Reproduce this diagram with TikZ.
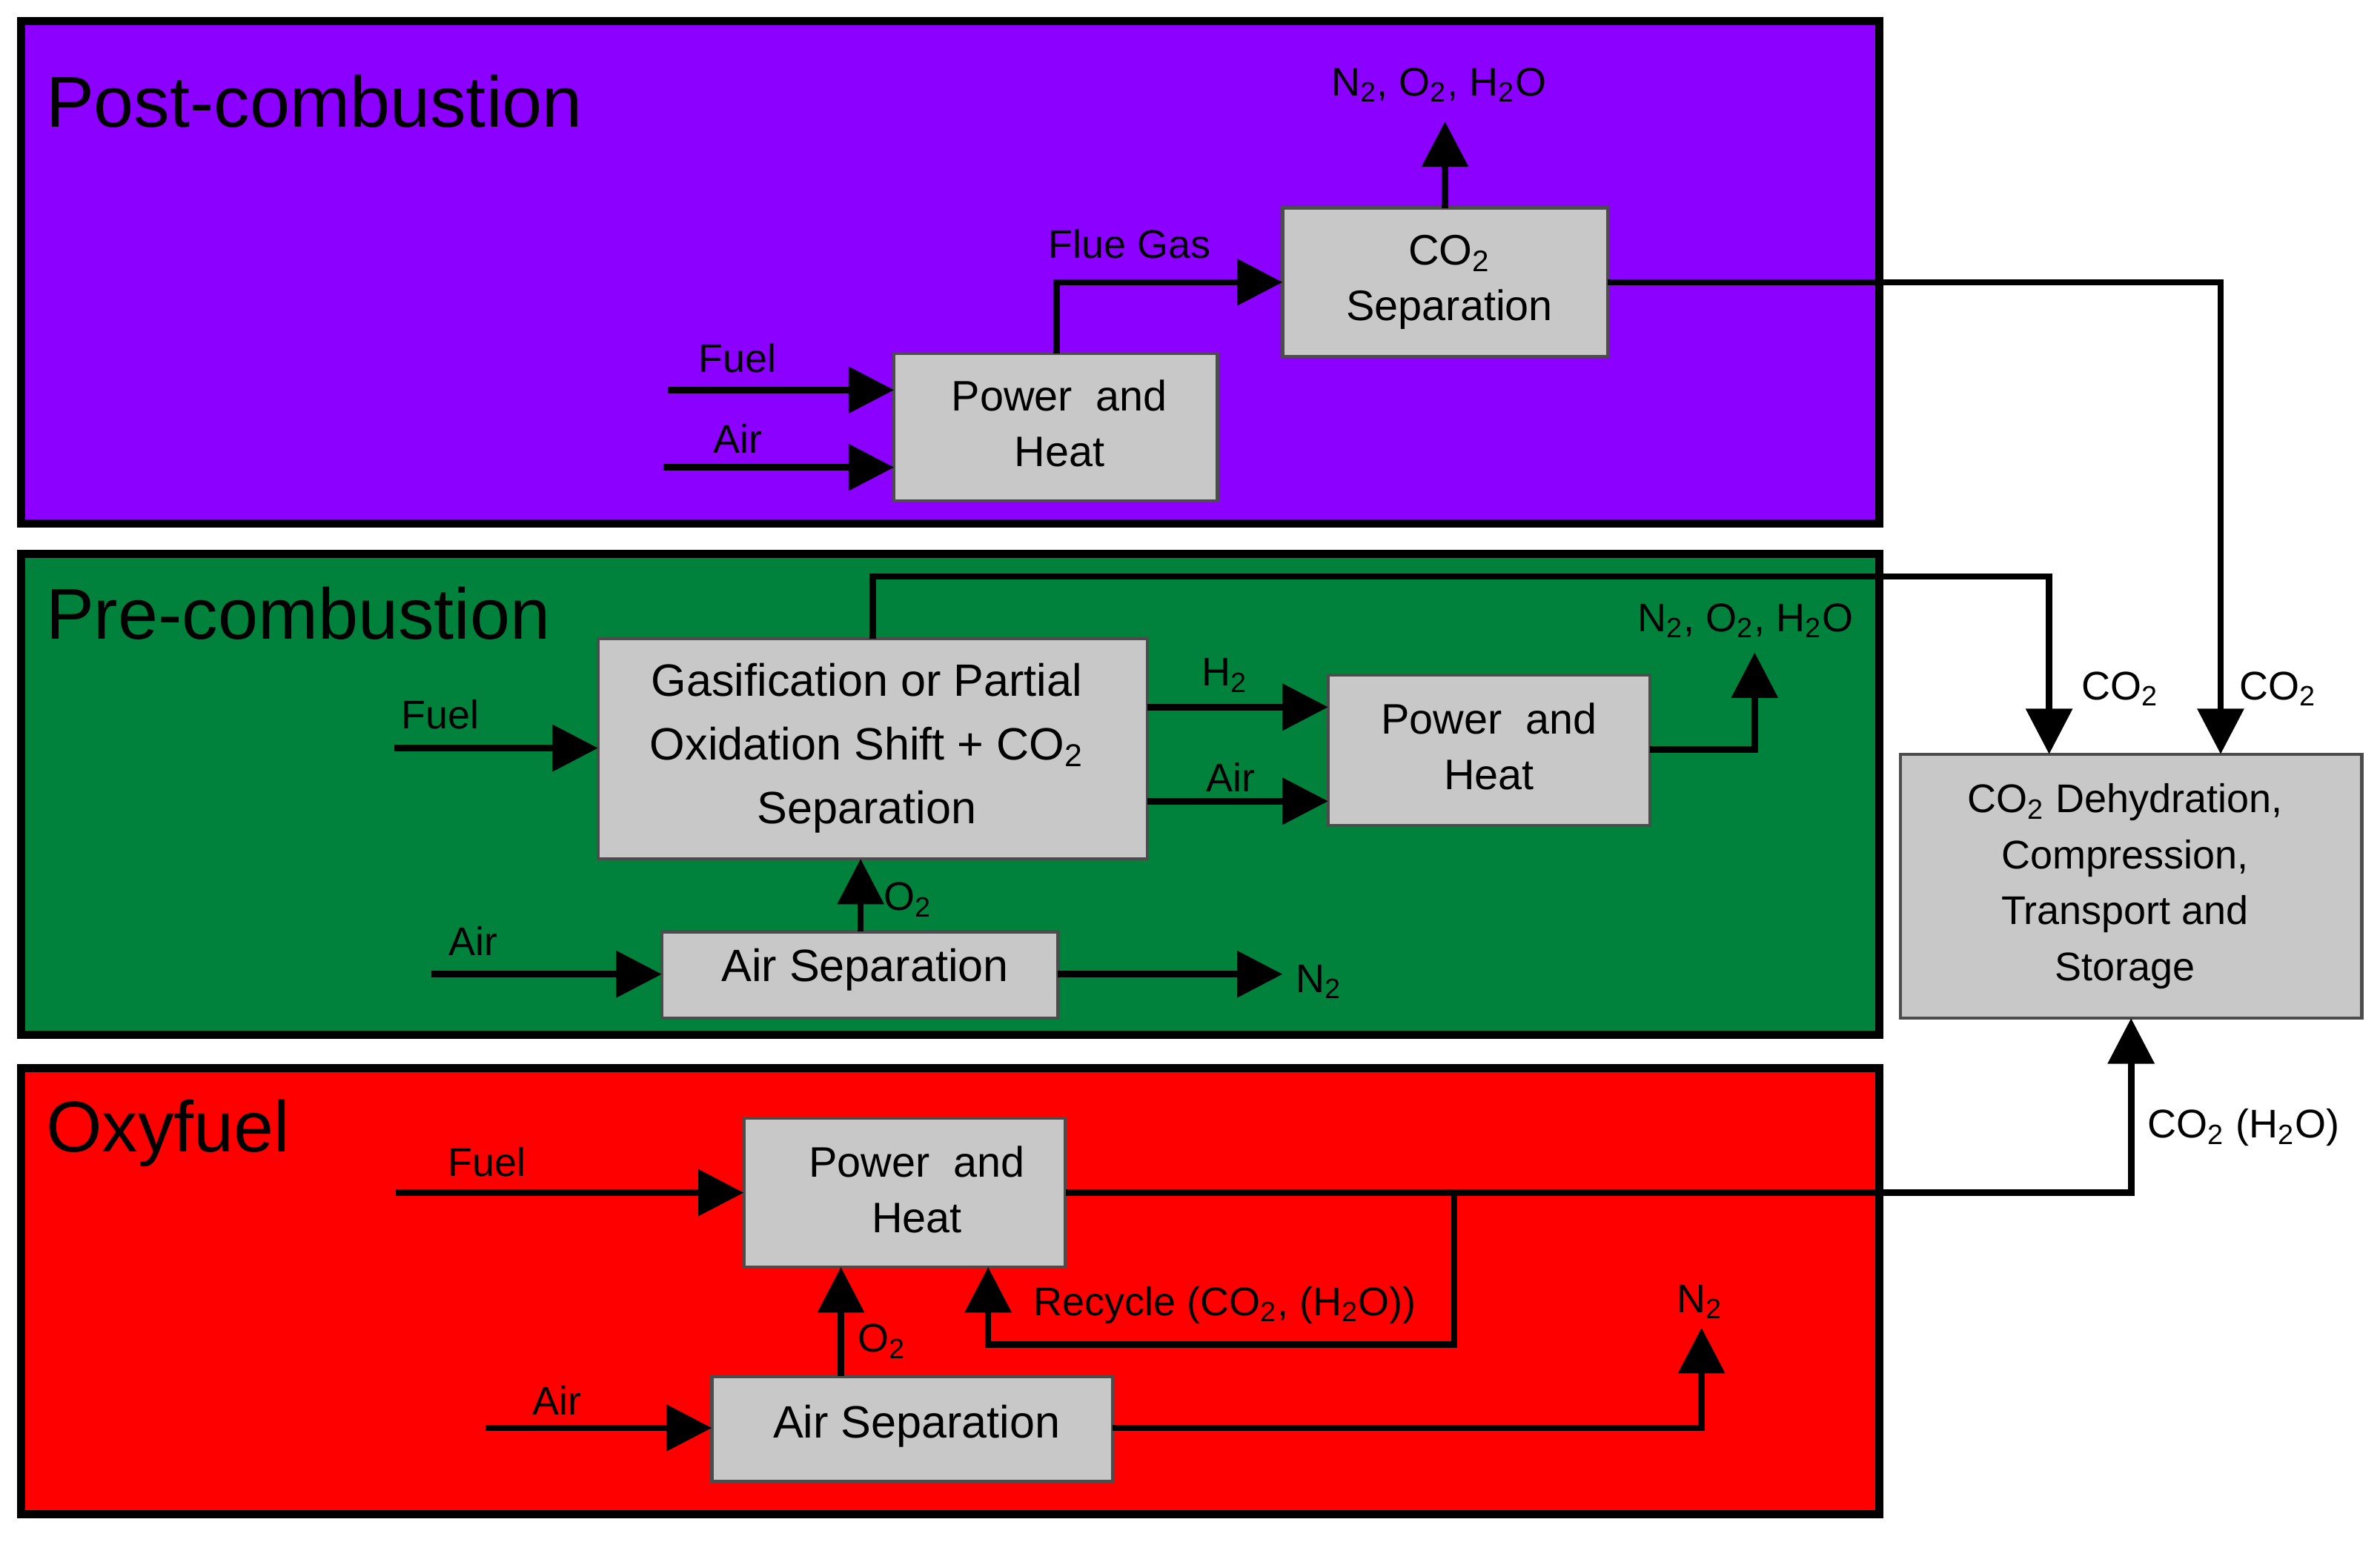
\documentclass[tikz,border=0pt]{standalone}
\usepackage{fontspec}
\setmainfont{Liberation Sans}
\usetikzlibrary{arrows.meta}
\definecolor{pur}{RGB}{140,0,255}
\definecolor{grn}{RGB}{0,130,60}
\definecolor{rd}{RGB}{255,0,0}
\definecolor{bx}{RGB}{200,200,200}
\newcommand{\sbs}[1]{\textsubscript{#1}}
\begin{document}
\begin{tikzpicture}[x=0.02cm,y=-0.02cm,
  panel/.style={draw=black,line width=3pt},
  blk/.style={draw=black!70,line width=1.2pt,fill=bx},
  bt/.style={font=\fontsize{16}{21}\selectfont,align=center},
  lab/.style={font=\fontsize{15}{18}\selectfont,inner sep=0pt},
  ttl/.style={font=\fontsize{27}{32}\selectfont,anchor=west,inner sep=0pt},
  ar/.style={line width=2.4pt,-{Triangle[length=0.6cm,width=0.6cm]}},
  ln/.style={line width=2.4pt}]
\useasboundingbox (0,0) rectangle (1568,1016);
\fill[white] (0,0) rectangle (1568,1016);
% panels
\draw[panel,fill=pur] (14,14) rectangle (1238,345);
\draw[panel,fill=grn] (14,365) rectangle (1238,682);
\draw[panel,fill=rd] (14,704) rectangle (1238,998);
\node[ttl] at (30,67) {Post-combustion};
\node[ttl] at (30,404) {Pre-combustion};
\node[ttl] at (30,747) {Oxyfuel};
% post
\draw[blk] (589,233) rectangle (802,330); \node[bt] (ph1) at (698,279) {Power~ and\\Heat};
\draw[blk] (845,137) rectangle (1059,235); \node[bt] (sep) at (955,186) {CO\sbs{2}\\Separation};
\coordinate (f1) at (440,257); \coordinate (a1) at (437,308);
\draw[ar] (f1) -- (589,257); \draw[ar] (a1) -- (589,308);
\node[lab] at (486,236) {Fuel}; \node[lab] at (486,289) {Air};
\draw[ar] (696,233) -- (696,186) -- (845,186);
\node[lab] at (744,161) {Flue Gas};
\draw[ar] (952,137) -- (952,80);
\node[lab] at (948,56) {N\sbs{2}, O\sbs{2}, H\sbs{2}O};
% right box
\draw[blk] (1252,497) rectangle (1556,671);
\node[bt,font=\fontsize{15}{21}\selectfont] (st) at (1400,584) {CO\sbs{2} Dehydration,\\Compression,\\Transport and\\Storage};
\draw[ar] (1059,186) -- (1463,186) -- (1463,497);
\node[lab] at (1501,454) {CO\sbs{2}};
% pre
\draw[blk] (394,421) rectangle (756,566);
\node[bt,font=\fontsize{17}{24}\selectfont] (gas) at (571,493) {Gasification or Partial\\Oxidation Shift + CO\sbs{2}\\Separation};
\coordinate (f2) at (260,493); \draw[ar] (f2) -- (394,493);
\node[lab] at (290,471) {Fuel};
\draw[ar] (575,421) -- (575,380) -- (1350,380) -- (1350,497);
\node[lab] at (1397,454) {CO\sbs{2}};
\draw[blk] (875,445) rectangle (1087,544); \node[bt] (ph2) at (981,492) {Power~ and\\Heat};
\draw[ar] (756,466) -- (875,466); \node[lab] at (807,445) {H\sbs{2}};
\draw[ar] (756,528) -- (875,528); \node[lab] at (811,512) {Air};
\draw[ar] (1087,494) -- (1156,494) -- (1156,430);
\node[lab] at (1150,409) {N\sbs{2}, O\sbs{2}, H\sbs{2}O};
\draw[blk] (436,614) rectangle (697,671); \node[bt,font=\fontsize{17}{22}\selectfont] (as1) at (570,639) {Air Separation};
\coordinate (a2) at (284,642); \draw[ar] (a2) -- (436,642);
\node[lab] at (312,620) {Air};
\draw[ar] (567,614) -- (567,566); \node[lab] at (598,593) {O\sbs{2}};
\draw[ar] (697,642) -- (845,642); \node[lab] at (869,647) {N\sbs{2}};
% oxy
\draw[blk] (490,737) rectangle (702,835); \node[bt] (ph3) at (604,784) {Power~ and\\Heat};
\coordinate (f3) at (261,786); \draw[ar] (f3) -- (490,786);
\node[lab] at (321,766) {Fuel};
\draw[ar] (702,786) -- (1404,786) -- (1404,671);
\node[lab] at (1478,743) {CO\sbs{2} (H\sbs{2}O)};
\draw[ar] (958,786) -- (958,886) -- (651,886) -- (651,835);
\node[lab] at (807,860) {Recycle (CO\sbs{2}, (H\sbs{2}O))};
\draw[blk] (469,907) rectangle (733,976); \node[bt,font=\fontsize{17}{22}\selectfont] (as2) at (604,940) {Air Separation};
\draw[ar] (554,907) -- (554,835); \node[lab] at (581,884) {O\sbs{2}};
\coordinate (a3) at (320,941); \draw[ar] (a3) -- (469,941);
\node[lab] at (367,923) {Air};
\draw[ar] (733,941) -- (1121,941) -- (1121,875);
\node[lab] at (1120,858) {N\sbs{2}};
\end{tikzpicture}
\end{document}
